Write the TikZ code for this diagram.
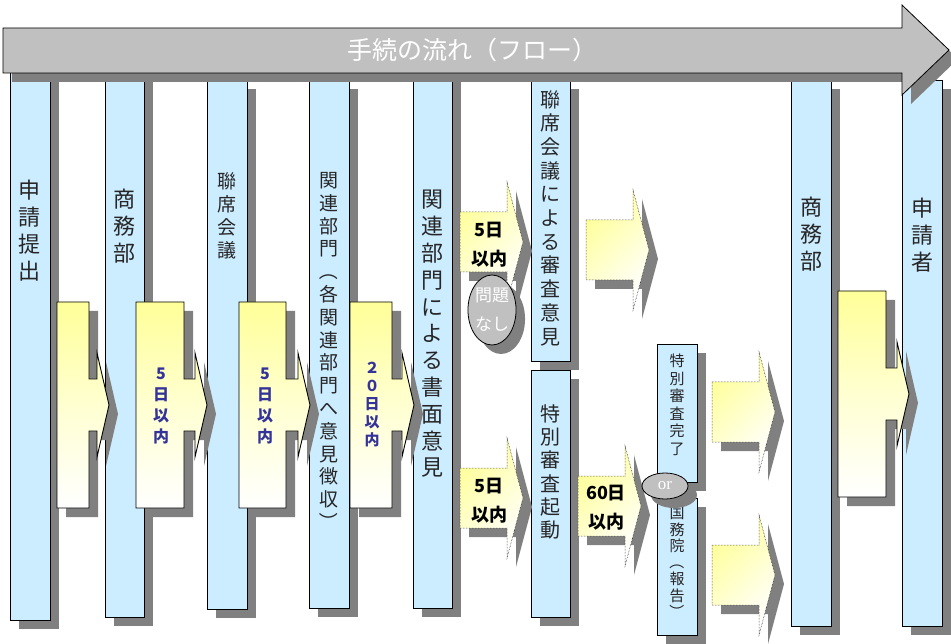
\documentclass[tikz,border=0pt]{standalone}
\usepackage{fontspec}
\usepackage{graphicx}
\setmainfont{Noto Sans CJK JP}
\newfontfamily\orfont{Liberation Serif}
\usetikzlibrary{shapes.geometric,shadows}
\definecolor{colblue}{HTML}{CCECFF}
\definecolor{shad}{HTML}{808080}
\definecolor{yel}{HTML}{FFFF99}
\definecolor{arrgray}{HTML}{C0C0C0}
\definecolor{navy}{HTML}{333399}
\newcommand{\vlp}{\rotatebox[origin=c]{-90}{（}}
\newcommand{\vrp}{\rotatebox[origin=c]{-90}{）}}
\tikzset{
  shadowed/.style={drop shadow={shadow xshift=9pt, shadow yshift=-9pt, opacity=1, fill=shad}},
  colst/.style={draw=black, line width=0.8pt, fill=colblue, inner sep=0pt, shadowed},
  coltxt/.style={align=center, inner sep=0pt, text=black!85},
  callA/.style={draw=black, line width=0.9pt, top color=yel, bottom color=white, middle color=yel!45, shadowed},
  callB/.style={draw=black, line width=0.5pt, densely dotted, top color=yel, bottom color=white, shading angle=45, shadowed},
  atxt/.style={align=center, inner sep=0pt, text=navy, font=\bfseries\fontsize{16}{21}\selectfont},
  btxt/.style={align=center, inner sep=0pt, text=black, font=\bfseries\fontsize{18}{29}\selectfont},
  ovalst/.style={ellipse, draw=black, line width=0.8pt, fill=arrgray, inner sep=0pt, text=white, shadowed}
}
\newcommand{\colbox}[5]{\node[colst, anchor=north west, minimum width={(#4-#2)*1pt}, minimum height={(#5-#3)*1pt}] (#1) at (#2,#3) {};}
\newcommand{\calloutA}[4]{%
  \draw[callA] (#1,#4-103) -- (#2,#4-103) -- (#2,#4-26) -- (#3,#4-26) -- (#3,#4-52)
    -- ({#3+12},#4) -- (#3,#4+52) -- (#3,#4+26) -- (#2,#4+26) -- (#2,#4+103) -- (#1,#4+103) -- cycle;}
\newcommand{\arrowB}[2]{%
  \draw[callB] (#1,#2-30) -- (#1+47,#2-30) -- (#1+47,#2-60) -- (#1+63,#2)
    -- (#1+47,#2+60) -- (#1+47,#2+30) -- (#1,#2+30) -- cycle;}
\begin{document}
\begin{tikzpicture}[x=1pt,y=-1pt]
\useasboundingbox (0,0) rectangle (951,644);
\fill[white] (0,0) rectangle (951,644);
% columns
\colbox{c1}{10}{70}{50}{620}
\colbox{c2}{105}{70}{144}{617}
\colbox{c3}{207}{80}{247}{609}
\colbox{c4}{309}{80}{349}{608}
\colbox{c5}{413}{70}{452}{608}
\colbox{c6}{531}{80}{570}{361}
\colbox{c7}{531}{370}{570}{617}
\colbox{c8}{657}{344}{697}{482}
\colbox{c9}{657}{498}{697}{635}
\colbox{c10}{791}{80}{831}{626}
\colbox{c11}{902}{80}{942}{626}
% column texts
\node[coltxt, font=\fontsize{22}{27}\selectfont] (t1) at (30,231) {申\\請\\提\\出};
\node[coltxt, font=\fontsize{22}{27}\selectfont] (t2) at (124.5,226) {商\\務\\部};
\node[coltxt, font=\fontsize{19}{23}\selectfont] (t3) at (227,216) {聯\\席\\会\\議};
\node[coltxt, font=\fontsize{19}{22.8}\selectfont] (t4) at (329,352) {関\\連\\部\\門\\\vlp\\各\\関\\連\\部\\門\\へ\\意\\見\\徴\\収\\\vrp};
\node[coltxt, font=\fontsize{22}{26.8}\selectfont] (t5) at (432.5,334) {関\\連\\部\\門\\に\\よ\\る\\書\\面\\意\\見};
\node[coltxt, font=\fontsize{20}{23.7}\selectfont] (t6) at (550.5,218) {聯\\席\\会\\議\\に\\よ\\る\\審\\査\\意\\見};
\node[coltxt, font=\fontsize{20}{23.3}\selectfont] (t7) at (550.5,472) {特\\別\\審\\査\\起\\動};
\node[coltxt, font=\fontsize{15}{17.5}\selectfont] (t8) at (677,405) {特\\別\\審\\査\\完\\了};
\node[coltxt, font=\fontsize{15}{16.5}\selectfont] (t9) at (677,563) {国\\務\\院\\\vlp\\報\\告\\\vrp};
\node[coltxt, font=\fontsize{22}{27}\selectfont] (t10) at (811,234) {商\\務\\部};
\node[coltxt, font=\fontsize{22}{27}\selectfont] (t11) at (922,235) {申\\請\\者};
% callout arrows (solid)
\calloutA{57}{89}{97}{405}
\calloutA{136}{184}{195}{405}
\calloutA{239}{286}{298}{405}
\calloutA{350}{392}{402}{405}
\calloutA{838}{886}{897}{394}
\node[atxt] (a2) at (161,406) {5\\日\\以\\内};
\node[atxt] (a3) at (265,406) {5\\日\\以\\内};
\node[atxt, font=\bfseries\fontsize{15}{18}\selectfont] (a4) at (372,405) {２\\０\\日\\以\\内};
% dotted block arrows
\arrowB{460}{242}
\arrowB{460}{498}
\arrowB{578}{506}
\arrowB{586}{250}
\arrowB{712}{412}
\arrowB{712}{575}
\node[btxt] (b1) at (489,245) {5日\\以内};
\node[btxt] (b2) at (489,501) {5日\\以内};
\node[btxt] (b3) at (606,508) {60日\\以内};
% ovals
\node[ovalst, minimum width=47pt, minimum height=70pt, font=\fontsize{17}{29}\selectfont, align=center] (ok) at (492,310) {問題\\なし};
\node[ovalst, minimum width=46pt, minimum height=26pt, font=\orfont\fontsize{17}{17}\selectfont] (or) at (665,486) {or};
% big flow arrow
\draw[fill=arrgray, draw=black, line width=0.8pt, shadowed] (3,28) -- (902,28) -- (902,5) -- (949,50) -- (902,95) -- (902,73) -- (3,73) -- cycle;
\node[text=white, font=\fontsize{25}{28}\selectfont] (title) at (472,50) {手続の流れ（フロー）};
\end{tikzpicture}
\end{document}
